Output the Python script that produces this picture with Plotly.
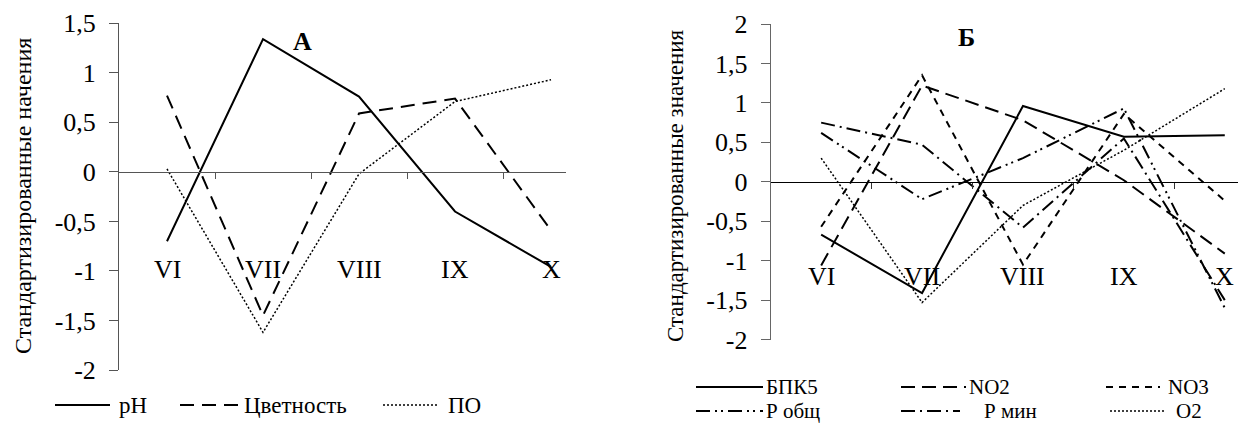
import plotly.graph_objects as go

# Months (Roman numerals) on the category axis
months = ["VI", "VII", "VIII", "IX", "X"]

# Panel А: standardized values
ph = [-0.70, 1.34, 0.76, -0.40, -0.96]
colour = [0.77, -1.45, 0.59, 0.74, -0.59]
po = [0.03, -1.62, -0.02, 0.71, 0.93]

# Panel Б: standardized values
bpk5 = [-0.67, -1.41, 0.96, 0.57, 0.59]
no2 = [-1.06, 1.22, 0.78, 0.02, -0.91]
no3 = [-0.57, 1.35, -1.05, 0.86, -0.24]
p_total = [0.62, -0.22, 0.30, 0.93, -1.60]
p_min = [0.75, 0.47, -0.58, 0.55, -1.50]
o2 = [0.30, -1.53, -0.30, 0.40, 1.18]

W, H = 1238, 426
FONT = "Liberation Serif, Times New Roman, serif"
xi = list(range(len(months)))


def px_x(p):
    return p / W


def px_y(p):
    return 1 - p / H


# line styles per series
STYLE = {
    "pH": dict(dash="solid", width=2),
    "Цветность": dict(dash="14px,8px", width=2),
    "ПО": dict(dash="2px,2px", width=1.5),
    "БПК5": dict(dash="solid", width=2),
    "NO2": dict(dash="14px,7px", width=2),
    "NO3": dict(dash="7px,6px", width=2),
    "Р общ": dict(dash="14px,5px,2px,4px,2px,5px", width=2),
    "Р мин": dict(dash="14px,5px,2px,5px", width=2),
    "O2": dict(dash="2px,2px", width=1.5),
}

fig = go.Figure()

for name, vals in [("pH", ph), ("Цветность", colour), ("ПО", po)]:
    fig.add_trace(go.Scatter(x=xi, y=vals, name=name, mode="lines",
                             line=dict(color="black", **STYLE[name]),
                             xaxis="x", yaxis="y"))

for name, vals in [("БПК5", bpk5), ("NO2", no2), ("NO3", no3),
                   ("Р общ", p_total), ("Р мин", p_min), ("O2", o2)]:
    fig.add_trace(go.Scatter(x=xi, y=vals, name=name, mode="lines",
                             line=dict(color="black", **STYLE[name]),
                             xaxis="x2", yaxis="y2"))

tick_font = dict(family=FONT, size=26, color="black")

common_y = dict(showgrid=False, zeroline=False, showline=True, ticks="outside",
                ticklen=9, tickwidth=1, tickfont=tick_font,
                ticklabelstandoff=8)
common_x = dict(showgrid=False, zeroline=False, showline=True, ticks="outside",
                ticklen=6, tickwidth=1, tickvals=[0.5, 1.5, 2.5, 3.5],
                showticklabels=False, anchor="free")

left_ticks = [-2, -1.5, -1, -0.5, 0, 0.5, 1, 1.5]
right_ticks = [-2, -1.5, -1, -0.5, 0, 0.5, 1, 1.5, 2]


def tick_text(vals):
    return [("%g" % v).replace(".", ",") for v in vals]


fig.update_layout(
    width=W, height=H, autosize=False,
    margin=dict(l=0, r=0, t=0, b=0, autoexpand=False),
    paper_bgcolor="white", plot_bgcolor="white",
    font=dict(family=FONT, size=22, color="black"),
    showlegend=False,
    xaxis=dict(domain=[px_x(119), px_x(566)], range=[-0.5, 4.156],
               position=px_y(172.3), linecolor="#555", tickcolor="#555",
               **common_x),
    yaxis=dict(domain=[px_y(370), px_y(23.3)], range=[-2, 1.5],
               anchor="x", linecolor="#555", tickcolor="#555",
               tickvals=left_ticks, ticktext=tick_text(left_ticks),
               **common_y),
    xaxis2=dict(domain=[px_x(770.7), 1.0], range=[-0.5, 4.131],
                position=px_y(181.7), linecolor="black", tickcolor="#333",
                **common_x),
    yaxis2=dict(domain=[px_y(339.6), px_y(24)], range=[-2, 2],
                anchor="x2", linecolor="#666", tickcolor="#666",
                tickvals=right_ticks, ticktext=tick_text(right_ticks),
                **common_y),
)

annotations = []
shapes = []


def note(x, y, text, size, **kw):
    kw.setdefault("xanchor", "center")
    kw.setdefault("yanchor", "middle")
    annotations.append(dict(x=x, y=y, text=text, showarrow=False,
                            font=dict(family=FONT, size=size, color="black"),
                            **kw))


# Month labels placed inside the plot area
for i, m in enumerate(months):
    note(i, -0.99, m, 26, xref="x", yref="y")
    note(i, -1.2, m, 26, xref="x2", yref="y2")

# Panel letters
note(px_x(302), px_y(42), "<b>А</b>", 26, xref="paper", yref="paper")
note(px_x(966), px_y(38), "<b>Б</b>", 26, xref="paper", yref="paper")

# Vertical axis titles
note(px_x(23), px_y(196), "Стандартизированные начения", 24,
     xref="paper", yref="paper", textangle=-90)
note(px_x(675), px_y(186), "Стандартизированные значения", 23,
     xref="paper", yref="paper", textangle=-90)


# Legend keys: sample line followed by the series name
def legend_entry(name, x0, x1, y, tx, size):
    st = STYLE[name]
    shapes.append(dict(type="line", xref="paper", yref="paper",
                       x0=px_x(x0), x1=px_x(x1), y0=px_y(y), y1=px_y(y),
                       line=dict(color="black", width=st["width"],
                                 dash=st["dash"])))
    note(px_x(tx), px_y(y), name, size, xref="paper", yref="paper",
         xanchor="left")


legend_entry("pH", 55, 110, 405, 117, 23)
legend_entry("Цветность", 180, 240, 405, 242, 23)
legend_entry("ПО", 383, 437, 405, 446, 23)

legend_entry("БПК5", 696, 763, 387, 764, 21)
legend_entry("NO2", 901, 966, 387, 967, 21)
legend_entry("NO3", 1106, 1160, 387, 1166, 21)
legend_entry("Р общ", 696, 763, 411, 764, 21)
legend_entry("Р мин", 901, 960, 411, 982, 21)
legend_entry("O2", 1110, 1165, 411, 1174, 21)

fig.update_layout(annotations=annotations, shapes=shapes)

fig.write_html("out.html")
